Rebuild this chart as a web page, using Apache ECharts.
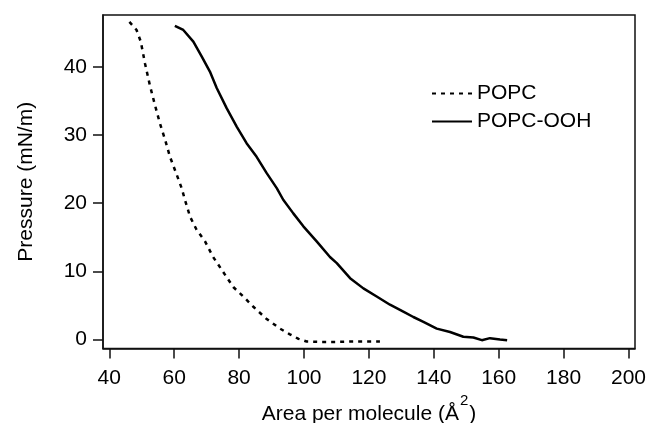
<!DOCTYPE html>
<html>
<head>
<meta charset="utf-8">
<script src="https://cdn.jsdelivr.net/npm/echarts@6/dist/echarts.min.js"></script>
<style>
  html, body { margin: 0; padding: 0; background: #fff; }
  #container { width: 646px; height: 423px; }
</style>
</head>
<body>
<div id="container"></div>
<script>
// 曲线数据
var popcArea = [46.2, 48.4, 49.7, 51.0, 52.5, 53.9, 55.6, 57.2, 58.7, 60.6, 62.3, 63.3, 64.9, 66.9, 69.5, 72.0, 75.1, 78.2, 81.3, 84.4, 88.5, 92.6, 95.5, 98.3, 100.8, 105, 110, 115, 120, 123.4];
var popcPressure = [46.6, 45.4, 43.7, 40.5, 37.3, 34.7, 31.7, 29.3, 26.8, 24.4, 22.2, 20.5, 18.0, 16.1, 14.4, 12.1, 9.9, 7.7, 6.3, 4.8, 3.0, 1.6, 0.8, 0.1, -0.3, -0.35, -0.35, -0.3, -0.3, -0.3];

var oohArea = [60.2, 62.8, 65.9, 68.5, 71.0, 73.1, 76.2, 79.3, 82.3, 85.4, 88.5, 91.6, 93.6, 96.7, 99.8, 103.9, 108.0, 110.1, 114.2, 118.3, 122.4, 126.5, 130.6, 133.7, 136.8, 140.9, 145.0, 149.1, 152.2, 154.8, 157.3, 160.4, 162.6];
var oohPressure = [46.0, 45.4, 43.7, 41.5, 39.3, 36.9, 33.9, 31.2, 28.8, 26.8, 24.4, 22.2, 20.5, 18.5, 16.6, 14.4, 12.1, 11.2, 9.0, 7.5, 6.3, 5.1, 4.1, 3.3, 2.6, 1.6, 1.1, 0.4, 0.3, -0.1, 0.2, 0.0, -0.1];

var xTicks = [40, 60, 80, 100, 120, 140, 160, 180, 200];
var yTicks = [0, 10, 20, 30, 40];

function pairs(xs, ys) {
    var out = [];
    for (var i = 0; i < xs.length; i++) {
        out.push([xs[i], ys[i]]);
    }
    return out;
}

var myChart = echarts.init(document.getElementById('container'));
var font = 'Liberation Sans';

var option = {
    animation: false,
    grid: {
        left: 103, top: 15, right: 11, bottom: 74.5,
        outerBoundsMode: 'none',
        containLabel: false,
        show: true,
        borderColor: '#111',
        borderWidth: 1.5
    },
    legend: {
        orient: 'vertical',
        left: 431,
        top: 83,
        padding: 0,
        itemWidth: 40,
        itemHeight: 14,
        itemGap: 7,
        itemStyle: {opacity: 0},
        textStyle: {fontFamily: font, fontSize: 21, color: '#000'},
        data: ['POPC', 'POPC-OOH']
    },
    xAxis: {
        type: 'value',
        min: 38.06,
        max: 202,
        name: '{a|Area per molecule (Å}{s|2}{a|)}',
        nameLocation: 'middle',
        nameGap: 42,
        nameTextStyle: {
            rich: {
                a: {fontFamily: font, fontSize: 21, color: '#000'},
                s: {fontFamily: font, fontSize: 15, color: '#000', padding: [0, 1, 26, 1]}
            }
        },
        axisLine: {show: true, onZero: false, lineStyle: {color: '#111', width: 1.5}},
        axisTick: {show: true, inside: false, length: 10, customValues: xTicks, lineStyle: {color: '#111', width: 1.5}},
        axisLabel: {customValues: xTicks, margin: 19, fontFamily: font, fontSize: 21, color: '#000'},
        splitLine: {show: false}
    },
    yAxis: {
        type: 'value',
        min: -1.32,
        max: 47.6,
        name: 'Pressure (mN/m)',
        nameLocation: 'middle',
        nameGap: 66,
        nameTextStyle: {fontFamily: font, fontSize: 21, color: '#000'},
        axisLine: {show: true, onZero: false, lineStyle: {color: '#111', width: 1.5}},
        axisTick: {show: true, inside: false, length: 10, customValues: yTicks, lineStyle: {color: '#111', width: 1.5}},
        axisLabel: {customValues: yTicks, margin: 16, fontFamily: font, fontSize: 21, color: '#000'},
        splitLine: {show: false}
    },
    series: [
        {
            name: 'POPC',
            type: 'line',
            showSymbol: false,
            symbol: 'none',
            lineStyle: {color: '#000', width: 2.5, type: [4, 5]},
            itemStyle: {color: '#000'},
            data: pairs(popcArea, popcPressure)
        },
        {
            name: 'POPC-OOH',
            type: 'line',
            showSymbol: false,
            symbol: 'none',
            lineStyle: {color: '#000', width: 2.5},
            itemStyle: {color: '#000'},
            data: pairs(oohArea, oohPressure)
        }
    ]
};
myChart.setOption(option, true);

window.onresize = function () {
    myChart.resize();
};
</script>
</body>
</html>
